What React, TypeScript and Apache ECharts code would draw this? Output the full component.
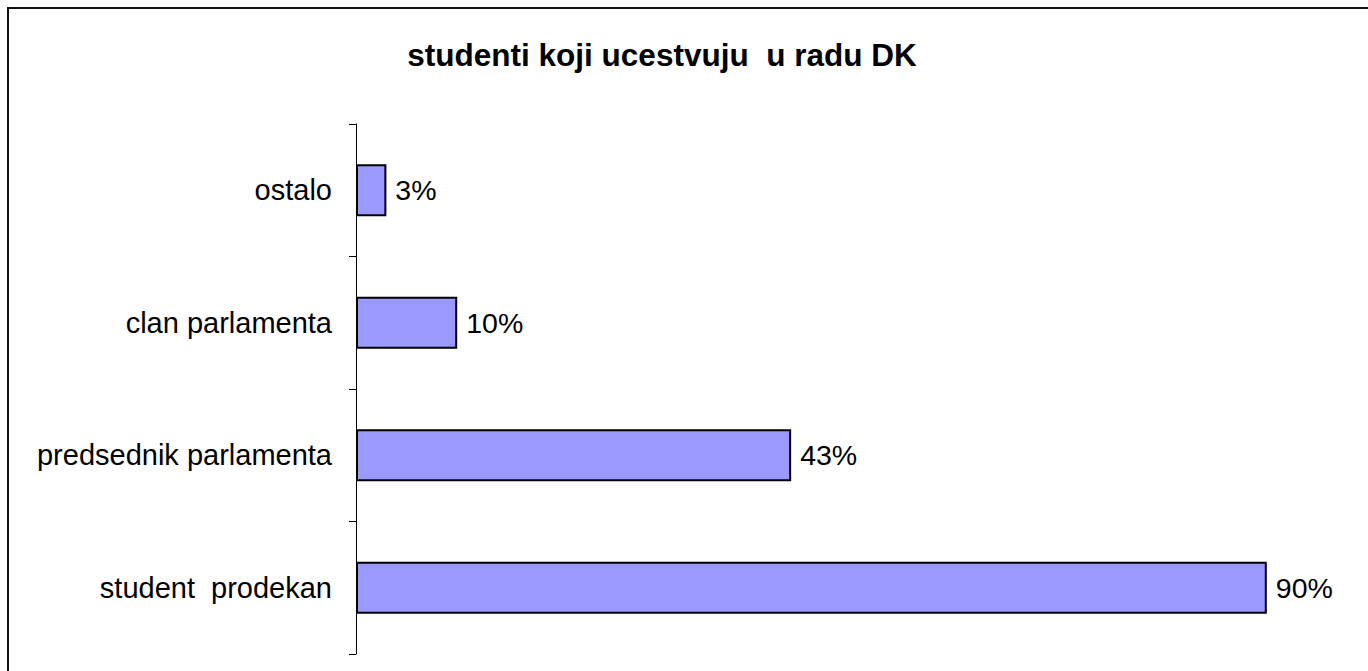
import React, { useEffect, useRef } from "react";
import * as echarts from "echarts";

const titleText = "studenti koji ucestvuju  u radu DK";
const categories = ["student  prodekan", "predsednik parlamenta", "clan parlamenta", "ostalo"];
const values = [90, 43, 10, 3];

export default function App() {
  const ref = useRef<HTMLDivElement>(null);
  useEffect(() => {
    if (!ref.current) return;
    const chart = echarts.init(ref.current, null, { renderer: "svg" });
    const font = "'Liberation Sans', Arial, sans-serif";
    chart.setOption({
      animation: false,
      backgroundColor: "#ffffff",
      graphic: [
        {
          type: "rect",
          shape: { x: 8, y: 8, width: 1500, height: 800 },
          style: { fill: "none", stroke: "#111", lineWidth: 2 },
          z: 10,
        },
        {
          type: "text",
          x: 662,
          y: 55,
          style: {
            text: titleText,
            font: `bold 31.5px ${font}`,
            fill: "#000",
            align: "center",
            verticalAlign: "middle",
          },
        },
      ],
      grid: { left: 356, top: 124, width: 1012, height: 530, containLabel: false },
      xAxis: { type: "value", min: 0, max: 100, show: false },
      yAxis: {
        type: "category",
        data: categories,
        boundaryGap: true,
        axisLine: { show: true, lineStyle: { color: "#000", width: 1 } },
        axisTick: { show: true, length: 7, inside: false, lineStyle: { color: "#000", width: 1 } },
        axisLabel: { fontSize: 29, fontFamily: font, color: "#000", margin: 24 },
        splitLine: { show: false },
      },
      series: [
        {
          type: "bar",
          data: values,
          barWidth: 52,
          itemStyle: { color: "#9999FF", borderColor: "#000", borderWidth: 2 },
          label: {
            show: true,
            position: "right",
            distance: 9,
            formatter: "{c}%",
            fontSize: 28.5,
            fontFamily: font,
            color: "#000",
          },
        },
      ],
    });
    return () => chart.dispose();
  }, []);
  return (
    <div
      ref={ref}
      style={{ position: "absolute", left: 0, top: 0, width: 1368, height: 671 }}
    />
  );
}
